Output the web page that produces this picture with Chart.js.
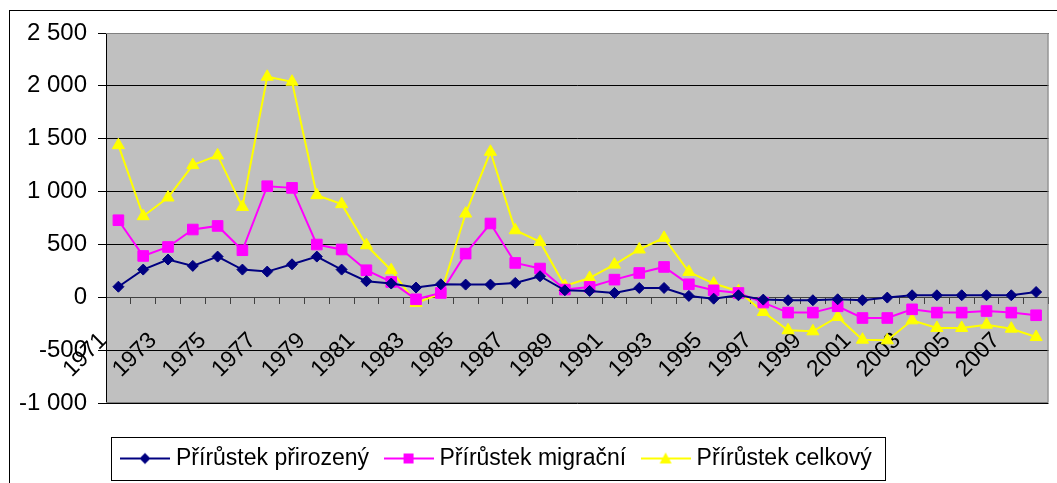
<!DOCTYPE html>
<html>
<head>
<meta charset="utf-8">
<script src="https://cdn.jsdelivr.net/npm/chart.js@4"></script>
<style>
  body { margin: 0; background: #fff; }
</style>
</head>
<body>
<canvas id="prirustekChart" width="1057" height="483"></canvas>
<script>
// roky
const roky = ["1971","1972","1973","1974","1975","1976","1977","1978","1979","1980",
              "1981","1982","1983","1984","1985","1986","1987","1988","1989","1990",
              "1991","1992","1993","1994","1995","1996","1997","1998","1999","2000",
              "2001","2002","2003","2004","2005","2006","2007","2008"];

// hodnoty
const prirozeny = [100, 262, 357, 297, 385, 262, 243, 312, 385, 262,
                   152, 130, 92, 123, 120, 120, 136, 199, 66, 60,
                   41, 88, 88, 13, -13, 19, -22, -28, -28, -19,
                   -28, -3, 19, 19, 19, 19, 19, 50];
const migracni = [729, 391, 476, 641, 675, 445, 1051, 1035, 499, 452,
                  256, 145, -19, 41, 413, 698, 325, 272, 73, 98,
                  167, 230, 287, 123, 66, 41, -50, -145, -145, -85,
                  -196, -196, -114, -145, -145, -130, -145, -170];
const celkovy = [1439, 767, 944, 1250, 1342, 855, 2086, 2039, 966, 881,
                 492, 256, -54, 35, 792, 1376, 634, 524, 107, 183,
                 309, 452, 562, 240, 130, 57, -139, -312, -322, -186,
                 -401, -407, -218, -290, -290, -259, -297, -376];

const yMin = -1000, yMax = 2500, yKrok = 500;

const pismo = "'Liberation Sans', Arial, sans-serif";

function cislo(v) {
  const s = Math.abs(v).toString().replace(/\B(?=(\d{3})+(?!\d))/g, " ");
  return (v < 0 ? "-" : "") + s;
}

// ikonka do legendy: cara + znacka
function ikona(barva, tvar) {
  const c = document.createElement("canvas");
  c.width = 50; c.height = 16;
  const g = c.getContext("2d");
  g.strokeStyle = barva; g.lineWidth = 2;
  g.beginPath(); g.moveTo(0, 8); g.lineTo(50, 8); g.stroke();
  g.fillStyle = barva;
  g.beginPath();
  if (tvar == "diamant") {
    g.moveTo(25, 2.5); g.lineTo(30.5, 8); g.lineTo(25, 13.5); g.lineTo(19.5, 8);
  } else if (tvar == "ctverec") {
    g.rect(20, 3, 10, 10);
  } else {
    g.moveTo(25, 2); g.lineTo(31, 13); g.lineTo(19, 13);
  }
  g.closePath(); g.fill();
  return c;
}

const pozadi = {
  id: "pozadi",
  beforeDraw(chart) {
    const ctx = chart.ctx, a = chart.chartArea;
    ctx.save();
    ctx.fillStyle = "#fff";
    ctx.fillRect(0, 0, chart.width, chart.height);
    ctx.strokeStyle = "#000";
    ctx.lineWidth = 1;
    ctx.strokeRect(9.5, 10.5, chart.width + 10, chart.height + 10);
    ctx.fillStyle = "#c0c0c0";
    ctx.fillRect(a.left, a.top, a.right - a.left, a.bottom - a.top);
    ctx.restore();
  },
  beforeDatasetsDraw(chart) {
    const ctx = chart.ctx, a = chart.chartArea;
    ctx.save();
    ctx.strokeStyle = "#808080";
    ctx.lineWidth = 1;
    ctx.beginPath();
    ctx.moveTo(a.left, a.top + 0.5); ctx.lineTo(a.right - 0.5, a.top + 0.5);
    ctx.lineTo(a.right - 0.5, a.bottom - 0.5); ctx.lineTo(a.left, a.bottom - 0.5);
    ctx.stroke();
    ctx.restore();
  }
};

const legendaBox = {
  id: "legendaBox",
  beforeLayout(chart) {
    const lg = chart.legend;
    if (lg && !lg._upraveno) {
      const puvodni = lg.fit.bind(lg);
      lg.fit = function () { puvodni(); this.height = 80; };
      lg._upraveno = true;
    }
  },
  afterLayout(chart) {
    const lg = chart.legend;
    const p = lg.options.labels.padding;
    lg.left = 125.5 - p;
    lg.right = chart.width + 200;
    lg.top = 458.5 - 11.5 - p;
    lg.bottom = 480;
  },
  afterDraw(chart) {
    const ctx = chart.ctx;
    ctx.save();
    ctx.strokeStyle = "#000";
    ctx.lineWidth = 1;
    ctx.strokeRect(111.5, 437.5, 774, 43);
    ctx.restore();
  }
};

new Chart(document.getElementById("prirustekChart"), {
  type: "line",
  data: {
    labels: roky,
    datasets: [
      {
        label: "Přírůstek přirozený",
        data: prirozeny,
        borderColor: "#000080",
        backgroundColor: "#000080",
        borderWidth: 2,
        pointStyle: "rectRot",
        pointRadius: 5.5,
        pointBorderWidth: 1,
        tension: 0
      },
      {
        label: "Přírůstek migrační",
        data: migracni,
        borderColor: "#ff00ff",
        backgroundColor: "#ff00ff",
        borderWidth: 2,
        pointStyle: "rect",
        pointRadius: 7.5,
        pointBorderWidth: 1,
        tension: 0
      },
      {
        label: "Přírůstek celkový",
        data: celkovy,
        borderColor: "#ffff00",
        backgroundColor: "#ffff00",
        borderWidth: 2,
        pointStyle: "triangle",
        pointRadius: 7,
        pointBorderWidth: 1,
        tension: 0
      }
    ]
  },
  options: {
    responsive: false,
    animation: false,
    layout: { padding: { top: 33, right: 2, left: 0, bottom: 0 } },
    plugins: {
      tooltip: { enabled: false },
      legend: {
        position: "bottom",
        align: "start",
        labels: {
          usePointStyle: true,
          pointStyleWidth: 39,
          padding: 20,
          color: "#000",
          font: { family: pismo, size: 23 },
          generateLabels(chart) {
            const tvary = ["diamant", "ctverec", "trojuhelnik"];
            return chart.data.datasets.map((ds, i) => ({
              text: ds.label,
              pointStyle: ikona(ds.borderColor, tvary[i]),
              fillStyle: ds.borderColor,
              strokeStyle: ds.borderColor,
              lineWidth: 0,
              fontColor: "#000",
              hidden: false,
              datasetIndex: i
            }));
          }
        }
      }
    },
    scales: {
      x: {
        position: { y: 0 },
        offset: true,
        afterFit(scale) { scale.paddingLeft = 0; scale.paddingRight = 0; },
        grid: { display: true, drawOnChartArea: false, offset: true, tickLength: 6, color: "#404040" },
        border: { color: "#404040" },
        ticks: {
          autoSkip: false,
          maxRotation: 45,
          minRotation: 45,
          padding: 24,
          labelOffset: -15,
          color: "#000",
          font: { family: pismo, size: 23 },
          callback: function (v, i) { return i % 2 === 0 ? roky[i] : ""; }
        }
      },
      y: {
        min: yMin,
        max: yMax,
        afterFit(scale) { scale.width = 106; },
        grid: { color: "#000", tickLength: 8 },
        border: { color: "#000" },
        ticks: {
          stepSize: yKrok,
          padding: 11,
          color: "#000",
          font: { family: pismo, size: 24 },
          callback: function (v) { return cislo(v); }
        }
      }
    }
  },
  plugins: [pozadi, legendaBox]
});
</script>
</body>
</html>
